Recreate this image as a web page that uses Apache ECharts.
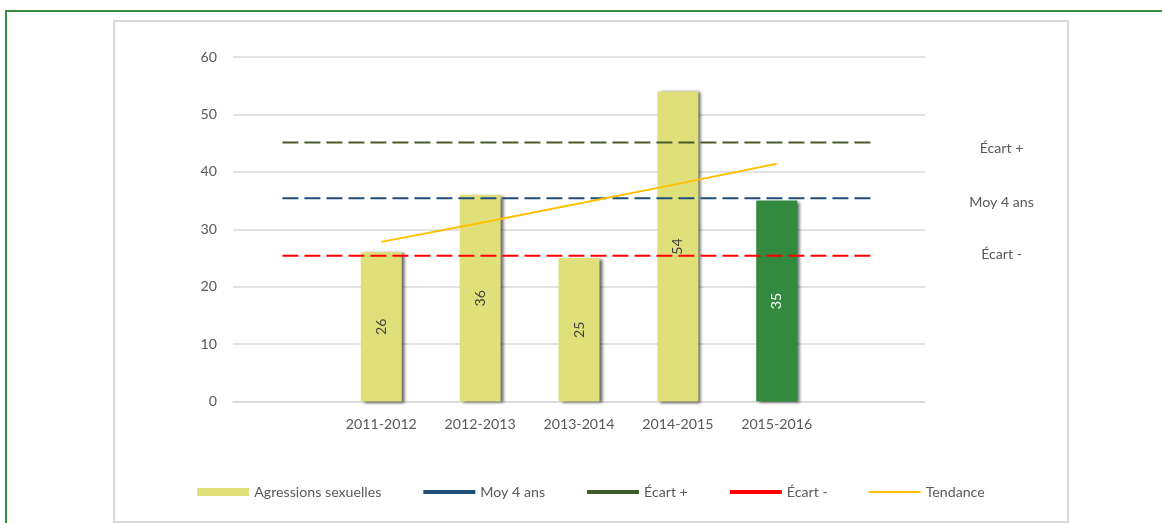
<!DOCTYPE html>
<html>
<head>
<meta charset="utf-8">
<script src="https://cdn.jsdelivr.net/npm/echarts@6/dist/echarts.min.js"></script>
<style>
  html, body { margin: 0; padding: 0; background: #fff; }
  body { width: 1162px; height: 523px; position: relative; overflow: hidden; }
  .outer { position: absolute; left: 5px; top: 10px; width: 1200px; height: 600px;
           border-top: 2px solid #3a8c42; border-left: 2px solid #3a8c42; }
  .box { position: absolute; left: 113px; top: 20px; width: 952px; height: 499px;
         border: 2px solid #d9d9d9; background: #fff; }
  #chart { width: 952px; height: 499px; }
</style>
</head>
<body>
<div class="outer"></div>
<div class="box"><div id="chart"></div></div>
<script>
  // categories (empty slots at both ends, as in the source sheet)
  const categories = ['', '2011-2012', '2012-2013', '2013-2014', '2014-2015', '2015-2016', '']
  const agressions = [null, 26, 36, 25, 54, 35, null]
  const currentIndex = 5 // 2015-2016 drawn in green
  const ecartPlus = [45.1, 45.1, 45.1, 45.1, 45.1, 45.1, 45.1]
  const moy4ans = [35.4, 35.4, 35.4, 35.4, 35.4, 35.4, 35.4]
  const ecartMoins = [25.4, 25.4, 25.4, 25.4, 25.4, 25.4, 25.4]
  const tendance = [null, 27.8, 31.1, 34.5, 37.9, 41.4, null]

  const font = 'Lato, "Open Sans", sans-serif'
  const txt = '#595959'
  const fs = 14.2

  const barData = agressions.map((v, i) => i === currentIndex
    ? { value: v, itemStyle: { color: '#338a3e' }, label: { color: '#fff' } }
    : v)

  const refLine = (name, data, color, dy) => ({
    name: name,
    type: 'line',
    data: data,
    symbol: 'none',
    z: 5,
    lineStyle: { color: color, width: 2, type: [16, 6] },
    itemStyle: { color: color },
    endLabel: {
      show: true,
      formatter: name,
      color: txt,
      fontFamily: font,
      fontSize: fs,
      align: 'center',
      distance: 0,
      offset: [126, dy]
    }
  })

  const noDot = { opacity: 0 }

  const chart = echarts.init(document.getElementById('chart'))
  chart.setOption({
    animation: false,
    textStyle: { fontFamily: font },
    grid: { left: 118, right: 142, top: 35, bottom: 119.5 },
    legend: {
      top: 458,
      left: 'center',
      itemWidth: 52,
      itemHeight: 8,
      itemGap: 40,
      textStyle: { color: txt, fontSize: fs, fontFamily: font },
      data: [
        { name: 'Agressions sexuelles', icon: 'rect' },
        { name: 'Moy 4 ans', itemStyle: noDot, lineStyle: { width: 4, type: 'solid' } },
        { name: 'Écart +', itemStyle: noDot, lineStyle: { width: 4, type: 'solid', color: '#3d5a27' } },
        { name: 'Écart -', itemStyle: noDot, lineStyle: { width: 4, type: 'solid' } },
        { name: 'Tendance', itemStyle: noDot, lineStyle: { width: 2, type: 'solid' } }
      ]
    },
    xAxis: {
      type: 'category',
      data: categories,
      axisTick: { show: false },
      axisLine: { lineStyle: { color: '#d9d9d9', width: 1.5 } },
      axisLabel: { color: txt, fontSize: fs, margin: 16, interval: 0 }
    },
    yAxis: {
      type: 'value',
      min: 0,
      max: 60,
      interval: 10,
      axisLine: { show: false },
      axisTick: { show: false },
      axisLabel: { color: txt, fontSize: fs, margin: 16 },
      splitLine: { lineStyle: { color: '#d9d9d9', width: 1.5 } }
    },
    series: [
      {
        name: 'Agressions sexuelles',
        type: 'bar',
        data: barData,
        barWidth: 41,
        itemStyle: {
          color: '#e0e07b',
          shadowColor: 'rgba(0,0,0,0.6)',
          shadowBlur: 3,
          shadowOffsetX: 3,
          shadowOffsetY: 1
        },
        label: {
          show: true,
          position: 'inside',
          rotate: 90,
          color: '#404040',
          fontSize: fs,
          fontFamily: font
        }
      },
      refLine('Moy 4 ans', moy4ans, '#1f4e79', 4),
      refLine('Écart +', ecartPlus, '#4a5a28', 6),
      refLine('Écart -', ecartMoins, '#ff0000', -1),
      {
        name: 'Tendance',
        type: 'line',
        data: tendance,
        symbol: 'none',
        z: 6,
        lineStyle: { color: '#ffc000', width: 2 },
        itemStyle: { color: '#ffc000' }
      }
    ]
  })
</script>
</body>
</html>
